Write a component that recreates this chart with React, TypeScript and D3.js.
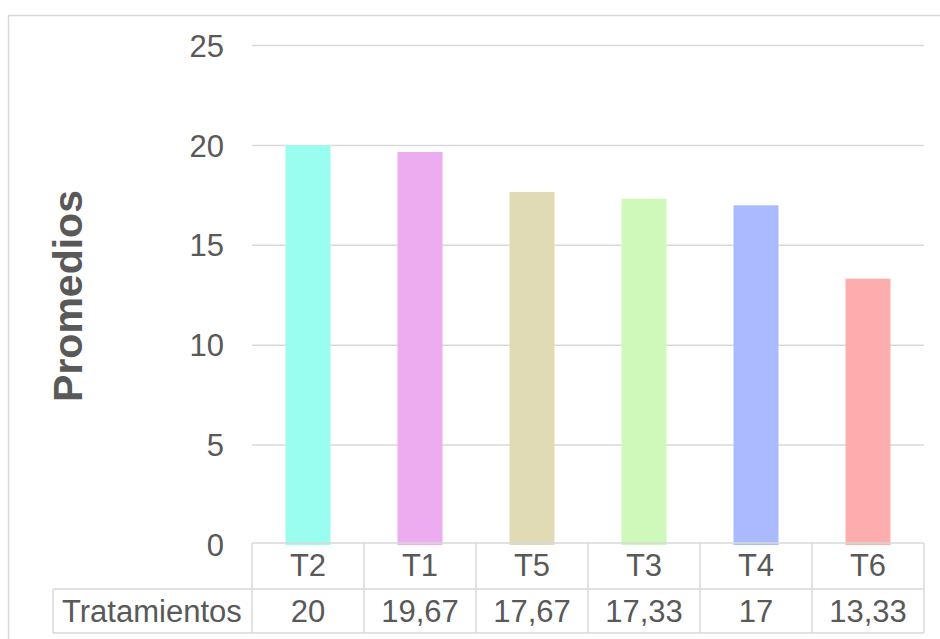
import React from "react";
import * as d3 from "d3";

const categories = ["T2", "T1", "T5", "T3", "T4", "T6"];
const values = [20, 19.67, 17.67, 17.33, 17, 13.33];
const valueLabels = ["20", "19,67", "17,67", "17,33", "17", "13,33"];
const barColors = ["#99FDF0", "#EDABF0", "#E0DBB5", "#CFF9BB", "#AABAFE", "#FDADAD"];
const yTicks = [0, 5, 10, 15, 20, 25];
const seriesName = "Tratamientos";
const axisTitle = "Promedios";

const W = 940;
const H = 639;
const plotLeft = 252;
const plotRight = 924;
const plotTop = 45.5;
const plotBottom = 545;
const row1Bottom = 589;
const row2Bottom = 633;
const textColor = "#595959";
const lineColor = "#D9D9D9";
const font = "Arial, 'Liberation Sans', sans-serif";

export default function App() {
  const x = d3
    .scaleBand<string>()
    .domain(categories)
    .range([plotLeft, plotRight])
    .paddingInner(0.598)
    .paddingOuter(0.299);
  const y = d3.scaleLinear().domain([0, 25]).range([plotBottom, plotTop]);
  const step = x.step();
  const cellLeft = (i: number) => plotLeft + i * step;

  return (
    <svg
      width={W}
      height={H}
      style={{ position: "absolute", left: 0, top: 0, background: "#fff" }}
      fontFamily={font}
    >
      {/* chart frame */}
      <rect x={8.5} y={15.5} width={W + 10} height={H + 10} fill="#fff" stroke={lineColor} strokeWidth={1.5} />

      {/* gridlines */}
      {yTicks.slice(1).map((t) => (
        <line key={t} x1={plotLeft} x2={plotRight} y1={y(t)} y2={y(t)} stroke={lineColor} strokeWidth={1.5} />
      ))}

      {/* y tick labels */}
      {yTicks.map((t) => (
        <text key={t} x={224} y={y(t)} dy="0.36em" textAnchor="end" fontSize={31} fill={textColor}>
          {t}
        </text>
      ))}

      {/* bars */}
      {categories.map((c, i) => (
        <rect
          key={c}
          x={x(c)}
          width={x.bandwidth()}
          y={y(values[i])}
          height={y(0) - y(values[i])}
          fill={barColors[i]}
        />
      ))}

      {/* y axis title */}
      <text
        transform={`translate(82,296) rotate(-90)`}
        textAnchor="middle"
        fontSize={41}
        fontWeight="bold"
        fill={textColor}
      >
        {axisTitle}
      </text>

      {/* data table */}
      <g stroke={lineColor} strokeWidth={1.5} fill="none">
        <line x1={plotLeft} x2={plotRight} y1={543} y2={543} />
        <line x1={53} x2={plotRight} y1={row1Bottom} y2={row1Bottom} />
        <line x1={53} x2={plotRight} y1={row2Bottom} y2={row2Bottom} />
        <line x1={53} x2={53} y1={row1Bottom} y2={row2Bottom} />
        {d3.range(categories.length + 1).map((i) => (
          <line key={i} x1={cellLeft(i)} x2={cellLeft(i)} y1={543} y2={row2Bottom} />
        ))}
      </g>
      {categories.map((c, i) => (
        <g key={c}>
          <text x={(x(c) ?? 0) + x.bandwidth() / 2} y={576} textAnchor="middle" fontSize={31} fill={textColor}>
            {c}
          </text>
          <text x={(x(c) ?? 0) + x.bandwidth() / 2} y={622} textAnchor="middle" fontSize={31} fill={textColor}>
            {valueLabels[i]}
          </text>
        </g>
      ))}
      <text x={62} y={622} fontSize={31} fill={textColor}>
        {seriesName}
      </text>
    </svg>
  );
}
